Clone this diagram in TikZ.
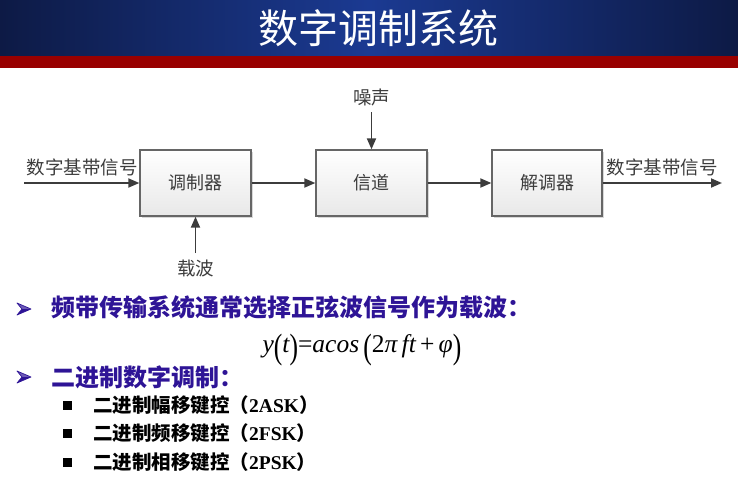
\documentclass[tikz,border=0pt]{standalone}
\usepackage{fontspec}
\usetikzlibrary{arrows.meta,shadows}
\newfontfamily\cjk{Noto Sans CJK SC}
\newfontfamily\tms{Liberation Serif}
\definecolor{barblueedge}{HTML}{0D1A45}
\definecolor{barbluemid}{HTML}{1B3A92}
\definecolor{barred}{HTML}{990000}
\definecolor{bulletblue}{HTML}{2E1496}
\definecolor{inkgray}{HTML}{3C3C3C}
\newcommand{\bigparen}[1]{\raisebox{-0.22em}{\scalebox{1}[1.38]{#1}}}
\begin{document}
\begin{tikzpicture}[x=1pt,y=-1pt,
  blk/.style={draw=black!60, line width=1.3pt, top color=white, bottom color=black!9,
    minimum height=66pt, inner sep=0pt, text=inkgray,
    font=\cjk\fontsize{18}{18}\selectfont,
    drop shadow={shadow xshift=1.5pt,shadow yshift=-1.5pt,fill=black!30,opacity=0.5}},
  sig/.style={draw=inkgray, line width=1.8pt, -{Triangle[length=11pt,width=9pt]}},
  lbl/.style={inner sep=0pt, text=inkgray, font=\cjk\fontsize{18.5}{18.5}\selectfont},
  headline/.style={inner sep=0pt, anchor=west, text=bulletblue,
    font=\cjk\bfseries\fontsize{24}{24}\selectfont},
  subline/.style={inner sep=0pt, anchor=west, text=black,
    font=\cjk\bfseries\fontsize{19.5}{19.5}\selectfont},
  sqmark/.style={fill=black, minimum size=9pt, inner sep=0pt},
  arrowmark/.pic={
    \fill[bulletblue!70!white] (14,0) -- (0,-6) -- (5,0) -- cycle;
    \fill[bulletblue] (14,0) -- (0,6) -- (5,0) -- cycle;
    \draw[bulletblue, line width=0.7pt, line join=round] (14,0) -- (0,-6) -- (5,0) -- (0,6) -- cycle;
  }]
\useasboundingbox (0,0) rectangle (738,485);

% title banner
\shade[left color=barblueedge, right color=barblueedge, middle color=barbluemid]
  (0,0) rectangle (738,56);
\fill[barred] (0,56) rectangle (738,68);
\node[inner sep=0pt, text=white, font=\cjk\fontsize{40}{40}\selectfont] (title) at (378,28) {数字调制系统};

% block diagram
\node[blk, minimum width=111pt] (mod) at (195.5,183) {调制器};
\node[blk, minimum width=111pt] (chan) at (371.5,183) {信道};
\node[blk, minimum width=110pt] (demod) at (547,183) {解调器};

\coordinate (in) at (24,183);
\coordinate (out) at (722,183);
\coordinate (carrier) at (195.5,253);
\coordinate (noise) at (371.5,112);

\draw[sig] (in) -- (mod.west);
\draw[sig] (mod.east) -- (chan.west);
\draw[sig] (chan.east) -- (demod.west);
\draw[sig] (demod.east) -- (out);
\draw[sig] (carrier) -- (mod.south);
\draw[sig] (noise) -- (chan.north);

\node[lbl] (inlbl) at (82,167) {数字基带信号};
\node[lbl] (outlbl) at (662,167) {数字基带信号};
\node[lbl] (carrierlbl) at (195.5,268) {载波};
\node[lbl] (noiselbl) at (371.5,97) {噪声};

% bullet list
\pic at (17,309) {arrowmark};
\node[headline] (h1) at (51,307) {频带传输系统通常选择正弦波信号作为载波：};
\node[inner sep=0pt, text=black, font=\tms\fontsize{25.5}{25.5}\selectfont] (formula) at (362,350)
  {\itshape y\upshape\bigparen{(}\itshape t\upshape\bigparen{)}=\itshape acos\upshape\,\bigparen{(}2\itshape π\,ft\upshape\,+\,\itshape φ\upshape\bigparen{)}};
\pic at (17,377) {arrowmark};
\node[headline] (h2) at (51,377) {二进制数字调制：};

\node[sqmark] (s1) at (67.5,405) {};
\node[subline] (t1) at (93,405) {二进制幅移键控（{\tms\bfseries 2ASK}）};
\node[sqmark] (s2) at (67.5,433) {};
\node[subline] (t2) at (93,433) {二进制频移键控（{\tms\bfseries 2FSK}）};
\node[sqmark] (s3) at (67.5,462) {};
\node[subline] (t3) at (93,462) {二进制相移键控（{\tms\bfseries 2PSK}）};
\end{tikzpicture}
\end{document}
